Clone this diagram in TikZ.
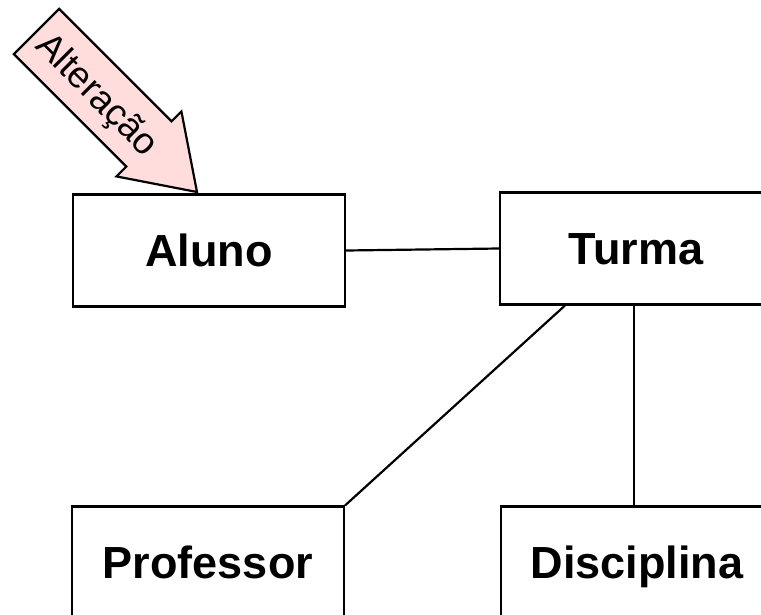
\documentclass[tikz,border=0pt]{standalone}
\usepackage{fontspec}
\setmainfont{Liberation Sans}
\definecolor{arrowpink}{RGB}{255,221,221}
\begin{document}
\begin{tikzpicture}[x=1pt,y=-1pt,
  entity/.style={draw=black, line width=2.2pt, fill=white, minimum width=272pt, minimum height=112pt,
    inner sep=0pt, text height=32pt, text depth=0pt, font=\fontsize{45}{48}\selectfont\bfseries},
  link/.style={draw=black, line width=2.2pt},
  bigarrow/.style={draw=black, line width=2.2pt, fill=arrowpink, line join=miter}]
\useasboundingbox (0,0) rectangle (761,614);
\clip (0,0) rectangle (761,614);
% block arrow
\draw[bigarrow] (59.1,8.9) -- (171.5,121.3) -- (181.4,111.4) -- (197,192) -- (116.4,176.4)
  -- (126.3,166.5) -- (13.9,54.1) -- cycle;
\node[rotate=-45, font=\fontsize{37}{40}\selectfont, inner sep=0pt] (lbl) at (96,96) {Alteração};
% entities
\node[entity] (aluno) at (209,250.5) {Aluno};
\node[entity] (turma) at (636,248.5) {Turma};
\node[entity] (prof) at (208,562.5) {Professor};
\node[entity] (disc) at (637,562.5) {Disciplina};
% connectors
\draw[link] (aluno.east) -- (turma.west);
\draw[link] ([xshift=66pt]turma.south west) -- (prof.north east);
\draw[link] ([xshift=-2pt]turma.south) -- ([xshift=-2pt]turma.south |- disc.north);
\end{tikzpicture}
\end{document}
